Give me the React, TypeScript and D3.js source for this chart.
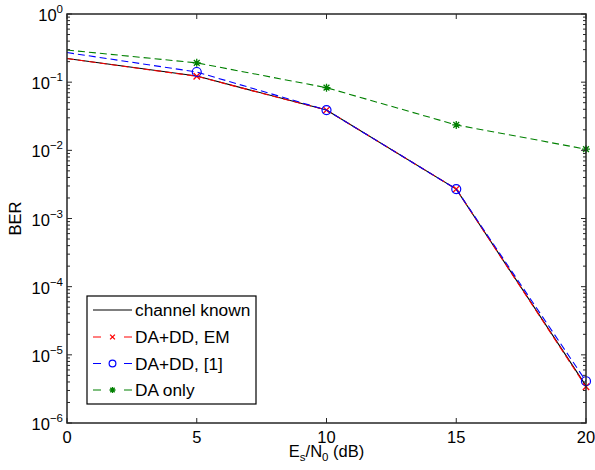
import * as d3 from "d3";
import React from "react";

const snr = [0, 5, 10, 15, 20];
const channelKnown = [0.222, 0.123, 0.039, 0.0027, 3.5e-6];
const daddEm = [0.222, 0.122, 0.039, 0.0027, 3.4e-6];
const daddRef = [0.272, 0.141, 0.039, 0.0027, 4.1e-6];
const daOnly = [0.296, 0.192, 0.083, 0.0236, 0.0104];
const xTicks = [0, 5, 10, 15, 20];
const yExps = [0, -1, -2, -3, -4, -5, -6];

const series = [
  { name: "channel known", data: channelKnown, color: "#000000", dash: null, marker: "none" },
  { name: "DA+DD, EM", data: daddEm, color: "#ff0000", dash: "7,4", marker: "x" },
  { name: "DA+DD, [1]", data: daddRef, color: "#0000ff", dash: "7,4", marker: "o" },
  { name: "DA only", data: daOnly, color: "#008000", dash: "7,4", marker: "*" },
];

const W = 595, H = 470;
const left = 67, right = 586, top = 14, bottom = 423;
const font = "'Liberation Sans', Arial, Helvetica, sans-serif";

const Marker = ({ type, x, y, color, k = 1 }: { type: string; x: number; y: number; color: string; k?: number }) => {
  if (type === "o") return <circle cx={x} cy={y} r={4.5 * k} fill="none" stroke={color} strokeWidth={1.2} />;
  if (type === "x") {
    const s = 3.2 * k;
    return (
      <path d={`M${x - s},${y - s}L${x + s},${y + s}M${x - s},${y + s}L${x + s},${y - s}`} stroke={color} strokeWidth={1.3} />
    );
  }
  if (type === "*") {
    const s = 4 * k;
    const d = 2.9 * k;
    return (
      <path
        d={`M${x - s},${y}L${x + s},${y}M${x},${y - s}L${x},${y + s}M${x - d},${y - d}L${x + d},${y + d}M${x - d},${y + d}L${x + d},${y - d}`}
        stroke={color}
        strokeWidth={1.3}
      />
    );
  }
  return null;
};

export default function App() {
  const x = d3.scaleLinear().domain([0, 20]).range([left, right]);
  const y = d3.scaleLog().domain([1e-6, 1]).range([bottom, top]);
  const line = d3
    .line<number>()
    .x((_, i) => x(snr[i]))
    .y((d) => y(d));

  const minor: number[] = [];
  for (let e = -6; e < 0; e++) for (let m = 2; m <= 9; m++) minor.push(m * Math.pow(10, e));

  const legendRows = [310, 337, 363.5, 390];

  return (
    <svg width={W} height={H} style={{ position: "absolute", left: 0, top: 0, background: "#fff" }} fontFamily={font}>
      <rect x={0} y={0} width={W} height={H} fill="#fff" />
      {/* data */}
      {series.map((s) => (
        <g key={s.name}>
          <path d={line(s.data) || ""} fill="none" stroke={s.color} strokeWidth={1.1} strokeDasharray={s.dash || undefined} />
          {s.data.map((v, i) =>
            i > 0 ? <Marker key={i} type={s.marker} x={x(snr[i])} y={y(v)} color={s.color} /> : null
          )}
        </g>
      ))}
      {/* ticks */}
      <g stroke="#262626" strokeWidth={1}>
        {xTicks.map((t) => (
          <g key={t}>
            <line x1={x(t)} x2={x(t)} y1={bottom} y2={bottom - 5} />
            <line x1={x(t)} x2={x(t)} y1={top} y2={top + 5} />
          </g>
        ))}
        {yExps.map((e) => (
          <g key={e}>
            <line x1={left} x2={left + 5} y1={y(Math.pow(10, e))} y2={y(Math.pow(10, e))} />
            <line x1={right} x2={right - 5} y1={y(Math.pow(10, e))} y2={y(Math.pow(10, e))} />
          </g>
        ))}
        {minor.map((m, i) => (
          <g key={i}>
            <line x1={left} x2={left + 3} y1={y(m)} y2={y(m)} />
            <line x1={right} x2={right - 3} y1={y(m)} y2={y(m)} />
          </g>
        ))}
      </g>
      <rect x={left} y={top} width={right - left} height={bottom - top} fill="none" stroke="#262626" strokeWidth={1.5} />
      {/* tick labels */}
      <g fontSize={16.5} fill="#000">
        {xTicks.map((t) => (
          <text key={t} x={x(t)} y={443} textAnchor="middle">
            {t}
          </text>
        ))}
        {yExps.map((e) => (
          <text key={e} x={63} y={y(Math.pow(10, e)) + 7} textAnchor="end">
            10
            <tspan fontSize={11.5} dy={-8}>
              {e === 0 ? "0" : "\u2212" + Math.abs(e)}
            </tspan>
          </text>
        ))}
      </g>
      {/* axis labels */}
      <text x={(left + right) / 2} y={457} textAnchor="middle" fontSize={16.5}>
        E<tspan fontSize={11.5} dy={4}>s</tspan>
        <tspan dy={-4}>/N</tspan>
        <tspan fontSize={11.5} dy={4}>0</tspan>
        <tspan dy={-4}> (dB)</tspan>
      </text>
      <text transform={`translate(21,${(top + bottom) / 2}) rotate(-90)`} textAnchor="middle" fontSize={16.5}>
        BER
      </text>
      {/* legend */}
      <rect x={87} y={296} width={169} height={108} fill="#fff" stroke="#000" strokeWidth={1.2} />
      {series.map((s, i) => (
        <g key={s.name}>
          {s.dash ? (
            <path d={`M93,${legendRows[i]}H101M124,${legendRows[i]}H132`} stroke={s.color} strokeWidth={1.1} />
          ) : (
            <line x1={93} x2={132} y1={legendRows[i]} y2={legendRows[i]} stroke={s.color} strokeWidth={1.1} />
          )}
          <Marker type={s.marker} x={112.5} y={legendRows[i]} color={s.color} k={0.75} />
          <text x={135} y={legendRows[i] + 6} fontSize={17.3}>
            {s.name}
          </text>
        </g>
      ))}
    </svg>
  );
}
